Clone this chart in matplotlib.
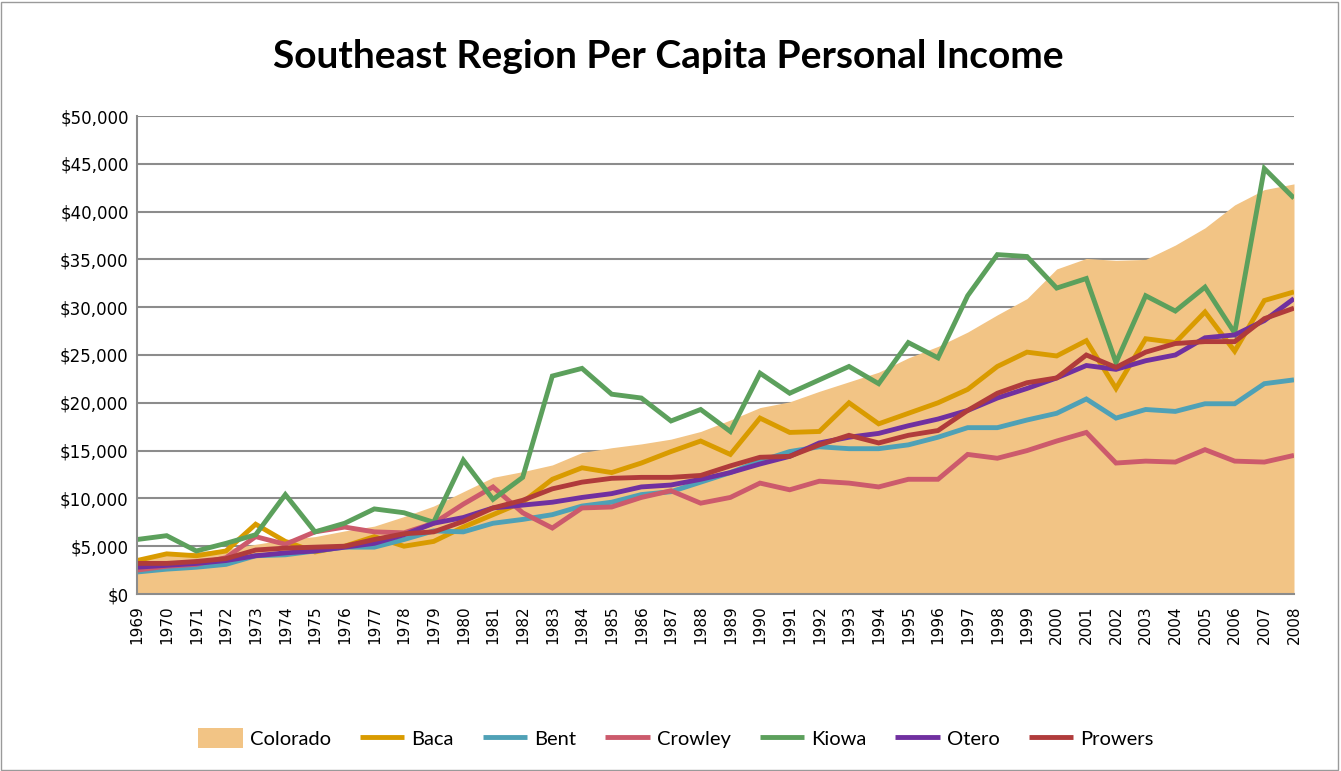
import matplotlib
matplotlib.use("Agg")
import matplotlib.pyplot as plt
from matplotlib.ticker import FuncFormatter, MultipleLocator
from matplotlib.patches import Rectangle

years = list(range(1969, 2009))

colorado = [3600, 4200, 4400, 4700, 5200, 5700, 6000, 6600, 7100, 8100,
            9200, 10700, 12200, 12800, 13500, 14800, 15300, 15700, 16200, 17000,
            18200, 19500, 20100, 21200, 22200, 23200, 24700, 25900, 27400, 29200,
            30900, 34000, 35100, 34900, 35000, 36500, 38300, 40700, 42300, 42900]
baca = [3500, 4200, 4000, 4500, 7300, 5500, 4400, 5000, 6000, 5000,
        5500, 7000, 8300, 9600, 12000, 13200, 12700, 13700, 14900, 16000,
        14600, 18400, 16900, 17000, 20000, 17800, 18900, 20000, 21400, 23800,
        25300, 24900, 26500, 21500, 26700, 26300, 29500, 25400, 30700, 31600]
bent = [2300, 2600, 2800, 3100, 4000, 4100, 4500, 4900, 4900, 5700,
        6600, 6500, 7400, 7800, 8300, 9200, 9600, 10400, 10700, 11700,
        12700, 13900, 14900, 15400, 15200, 15200, 15600, 16400, 17400, 17400,
        18200, 18900, 20400, 18400, 19300, 19100, 19900, 19900, 22000, 22400]
crowley = [2500, 2900, 3100, 3800, 6000, 5200, 6500, 7000, 6500, 6400,
           7400, 9400, 11200, 8500, 6900, 9000, 9100, 10100, 10800, 9500,
           10100, 11600, 10900, 11800, 11600, 11200, 12000, 12000, 14600, 14200,
           15000, 16000, 16900, 13700, 13900, 13800, 15100, 13900, 13800, 14500]
kiowa = [5700, 6100, 4500, 5300, 6200, 10400, 6500, 7400, 8900, 8500,
         7500, 14000, 9900, 12200, 22800, 23600, 20900, 20500, 18100, 19300,
         17000, 23100, 21000, 22400, 23800, 22000, 26300, 24700, 31200, 35500,
         35300, 32000, 33000, 24200, 31200, 29600, 32100, 27300, 44500, 41400]
otero = [2800, 3000, 3200, 3500, 4000, 4300, 4500, 4900, 5300, 6200,
         7400, 8000, 9000, 9300, 9600, 10100, 10500, 11200, 11400, 12000,
         12700, 13600, 14400, 15800, 16400, 16800, 17600, 18300, 19200, 20500,
         21500, 22600, 23900, 23500, 24400, 25000, 26800, 27100, 28600, 30900]
prowers = [3200, 3200, 3400, 3700, 4600, 4800, 4900, 5000, 5700, 6300,
           6500, 7600, 9000, 9800, 11000, 11700, 12100, 12200, 12200, 12400,
           13400, 14300, 14400, 15600, 16600, 15800, 16600, 17100, 19200, 21000,
           22100, 22600, 25000, 23700, 25300, 26200, 26400, 26400, 28800, 29900]

series_names = ["Baca", "Bent", "Crowley", "Kiowa", "Otero", "Prowers"]
series_vals = [baca, bent, crowley, kiowa, otero, prowers]
series_colors = ["#D99B00", "#4FA1B6", "#CC5A6C", "#5CA05C", "#7030A0", "#B03B3B"]
area_color = "#F2C485"

title_font = ["Lato", "DejaVu Sans"]

fig = plt.figure(figsize=(13.41, 7.71), dpi=100)
ax = fig.add_axes([137/1341, 1 - 594/771, (1294-137)/1341, (594-116)/771])

ax.fill_between(years, colorado, 0, color=area_color, linewidth=0, zorder=2, label="Colorado")
for name, vals, col in zip(series_names, series_vals, series_colors):
    ax.plot(years, vals, color=col, linewidth=3.5, zorder=3, label=name,
            solid_joinstyle="miter", solid_capstyle="butt")

ax.set_xlim(1969, 2008)
ax.set_ylim(0, 50000)
ax.yaxis.set_major_locator(MultipleLocator(5000))
ax.yaxis.set_major_formatter(FuncFormatter(lambda v, p: f"${int(v):,}"))
ax.set_xticks(years)
ax.set_xticklabels([str(y) for y in years], rotation=90, fontsize=11,
                   family="DejaVu Sans")
for lab in ax.get_yticklabels():
    lab.set_fontsize(12)
ax.tick_params(axis="y", length=0, pad=6, colors="#000000")
ax.tick_params(axis="x", length=0, pad=8, colors="#000000")
ax.set_axisbelow(True)
ax.grid(axis="y", color="#8C8C8C", linewidth=1.5, zorder=1)
for side in ["top", "right"]:
    ax.spines[side].set_visible(False)
for side in ["left", "bottom"]:
    ax.spines[side].set_color("#8C8C8C")
    ax.spines[side].set_linewidth(1.5)
    ax.spines[side].set_zorder(4)

fig.text(0.498, 1 - 56/771, "Southeast Region Per Capita Personal Income",
         ha="center", va="center", fontsize=28, fontweight="bold",
         family=title_font)

handles, labels = ax.get_legend_handles_labels()
leg = fig.legend(handles, labels, loc="center", bbox_to_anchor=(0.504, 1 - 738/771),
                 ncol=7, frameon=False, handlelength=2.2, handleheight=1.1,
                 columnspacing=1.45, handletextpad=0.35,
                 prop={"family": title_font, "size": 14.5})

fig.patches.append(Rectangle((0.001, 0.001), 0.997, 0.997, transform=fig.transFigure,
                             fill=False, edgecolor="#9A9A9A", linewidth=1.0))

fig.savefig("out.png", dpi=100, facecolor="white")
